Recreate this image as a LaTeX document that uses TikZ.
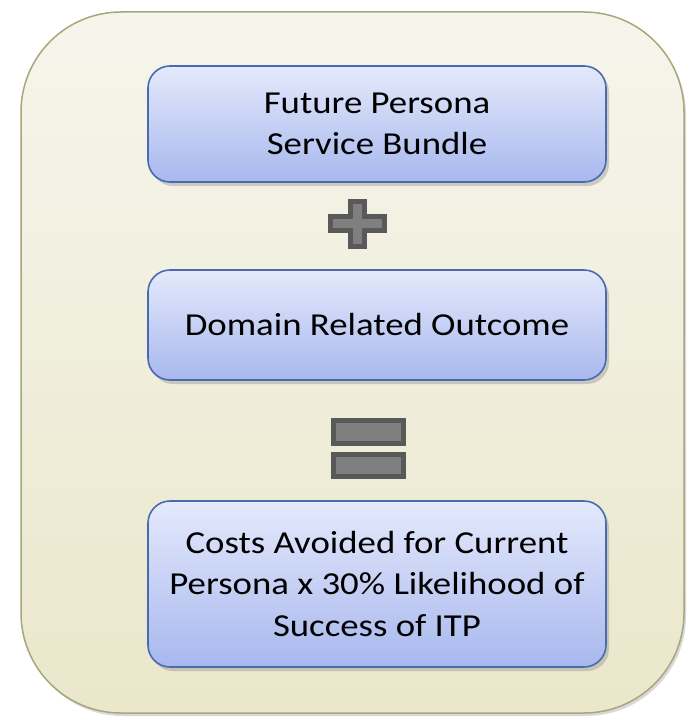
\documentclass[tikz,border=0pt]{standalone}
\usepackage{fontspec}
\setmainfont{Carlito}[FakeStretch=1.15]
\usetikzlibrary{shadows}
\definecolor{boxtop}{HTML}{E4E9FB}
\definecolor{boxbot}{HTML}{A8B8EE}
\definecolor{boxline}{HTML}{4A6AB0}
\definecolor{paneltop}{HTML}{F6F5EC}
\definecolor{panelbot}{HTML}{EAE7CB}
\definecolor{panelline}{HTML}{A8A67C}
\definecolor{signdark}{HTML}{595959}
\definecolor{signlight}{HTML}{7F7F7F}
\begin{document}
\begin{tikzpicture}[x=1pt,y=-1pt]
 	\def \colx{377}
 	\def \rowoneht{124}
 	\def \rowtwoht{325}
 	\def \rowthreeht{584}
 	\tikzstyle{step-box}=[rectangle,rounded corners=22pt,draw=boxline,line width=1.6pt,top color=boxtop,bottom color=boxbot,minimum width=458pt,align=center,font=\fontsize{32}{41.5}\selectfont,drop shadow={shadow xshift=3pt,shadow yshift=-4pt,opacity=0.35}]
 	\tikzstyle{sign}=[fill=signlight,draw=signdark,line width=5pt,miter limit=10]
 	\useasboundingbox (0,0) rectangle (687,717);
 	% panel
 	\path[rounded corners=100pt,draw=panelline,line width=1.5pt,top color=paneltop,bottom color=panelbot,drop shadow={shadow xshift=2pt,shadow yshift=-3pt,opacity=0.3}] (21,12) rectangle (684,713);
 	% boxes
 	\node[step-box,minimum height=116pt] (future)	at (\colx,\rowoneht)		{Future Persona\\Service Bundle};
 	\node[step-box,minimum height=110pt] (domain)	at (\colx,\rowtwoht)		{Domain Related Outcome};
 	\node[step-box,minimum height=166pt] (costs)	at (\colx,\rowthreeht)	{Costs Avoided for Current\\Persona x 30\% Likelihood of\\Success of ITP};
 	% plus and equals
 	\coordinate (plus-c) at (357.5,224);
 	\coordinate (equal-c) at (368.5,448.5);
 	\draw[sign] ([shift={(-7,-22.5)}]plus-c) -- ([shift={(7,-22.5)}]plus-c) -- ([shift={(7,-7.5)}]plus-c)
 		-- ([shift={(27,-7.5)}]plus-c) -- ([shift={(27,6.5)}]plus-c) -- ([shift={(7,6.5)}]plus-c)
 		-- ([shift={(7,22.5)}]plus-c) -- ([shift={(-7,22.5)}]plus-c) -- ([shift={(-7,6.5)}]plus-c)
 		-- ([shift={(-27,6.5)}]plus-c) -- ([shift={(-27,-7.5)}]plus-c) -- ([shift={(-7,-7.5)}]plus-c) -- cycle;
 	\draw[sign] ([shift={(-35,-28)}]equal-c) rectangle ([shift={(35,-5)}]equal-c);
 	\draw[sign] ([shift={(-35,6)}]equal-c) rectangle ([shift={(35,28)}]equal-c);
\end{tikzpicture}
\end{document}
